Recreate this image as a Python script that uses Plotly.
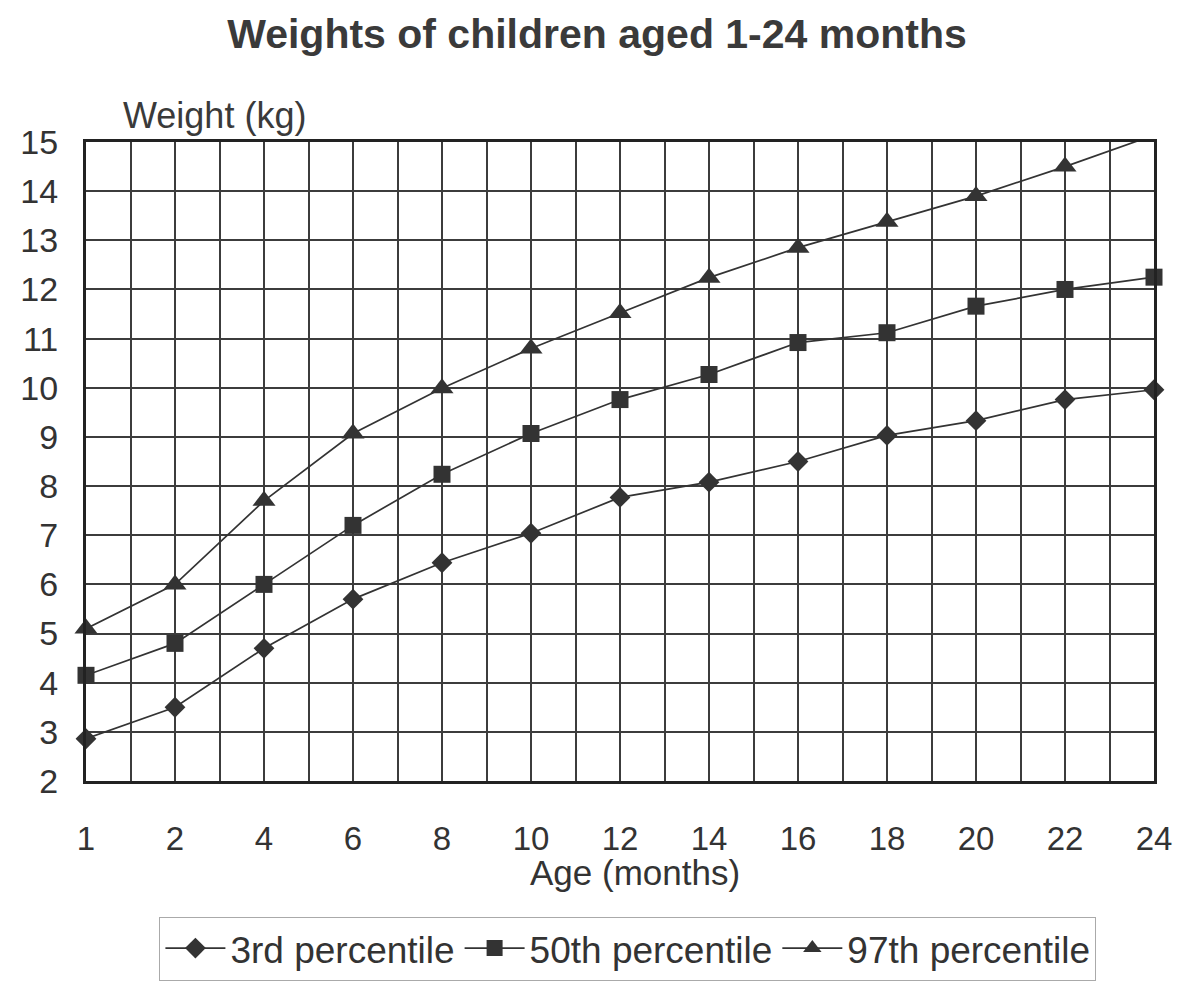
import plotly.graph_objects as go

ages = ["1", "2", "4", "6", "8", "10", "12", "14", "16", "18", "20", "22", "24"]
p3 = [2.86, 3.5, 4.7, 5.7, 6.44, 7.04, 7.77, 8.08, 8.5, 9.03, 9.33, 9.76, 9.96]
p50 = [4.15, 4.8, 6.0, 7.2, 8.24, 9.07, 9.76, 10.27, 10.92, 11.12, 11.66, 12.0, 12.25]
p97 = [5.1, 6.0, 7.7, 9.07, 9.99, 10.8, 11.52, 12.24, 12.85, 13.38, 13.9, 14.5, 15.14]
series_names = ["3rd percentile", "50th percentile", "97th percentile"]
y_ticks = list(range(2, 16))

xi = list(range(len(ages)))
ink = "#333333"
font = "Liberation Sans, Arial, sans-serif"

fig = go.Figure()
for name, vals, sym, size in [
    (series_names[0], p3, "diamond", 16),
    (series_names[1], p50, "square", 17),
    (series_names[2], p97, "triangle-up", 20),
]:
    fig.add_trace(go.Scatter(
        x=xi, y=vals, name=name, mode="lines+markers",
        line=dict(color=ink, width=1.7),
        marker=dict(symbol=sym, size=size, color=ink),
        cliponaxis=False,
    ))

# page body has an 8px margin; size the figure so it fits the 1192x1001 window
W, H = 1176, 985
OFF = 8
L, R, T, B = 80, 1160, 142, 798  # plot area in window pixels
PW, PH = R - L, B - T

fig.update_layout(
    width=W, height=H,
    margin=dict(l=L - OFF, r=W - (R - OFF), t=T - OFF, b=H - (B - OFF)),
    paper_bgcolor="white", plot_bgcolor="white",
    font=dict(family=font, color=ink, size=34),
    title=dict(text="<b>Weights of children aged 1-24 months</b>",
               x=(597 - OFF) / W, xanchor="center", y=1 - (34 - OFF) / H, yanchor="middle",
               font=dict(size=41, family=font, color="#3a3a3a")),
    showlegend=True,
    legend=dict(orientation="h", x=(628 - L) / PW, xanchor="center",
                y=(B - 970) / PH, yanchor="middle",
                font=dict(size=37, family=font, color=ink),
                bordercolor="#aaaaaa", borderwidth=1, itemwidth=60,
                tracegroupgap=0),
    annotations=[
        dict(text="Weight (kg)", xref="paper", yref="paper", x=(115 - L) / PW,
             y=(B - 115) / PH, xanchor="left", yanchor="middle", showarrow=False,
             font=dict(size=36, family=font, color="#3a3a3a")),
        dict(text="Age (months)", xref="paper", yref="paper", x=(635 - L) / PW,
             y=(B - 892) / PH, xanchor="center", yanchor="middle", showarrow=False,
             font=dict(size=35, family=font, color=ink)),
    ],
)

fig.update_xaxes(
    range=[0, len(ages) - 1], tickmode="array", tickvals=xi, ticktext=ages,
    showgrid=True, gridcolor="#3c3c3c", gridwidth=1.5,
    minor=dict(tickmode="linear", tick0=0, dtick=0.5, showgrid=True,
               gridcolor="#3c3c3c", gridwidth=1.5),
    showline=True, mirror=True, linecolor="#222222", linewidth=3,
    ticks="", ticklabelstandoff=26, tickfont=dict(size=33),
    zeroline=False,
)
fig.update_yaxes(
    range=[2, 15], tickmode="array", tickvals=y_ticks,
    showgrid=True, gridcolor="#3c3c3c", gridwidth=1.5,
    showline=True, mirror=True, linecolor="#222222", linewidth=3,
    ticks="", ticklabelstandoff=18, tickfont=dict(size=34),
    zeroline=False,
)

fig.write_html("out.html")
